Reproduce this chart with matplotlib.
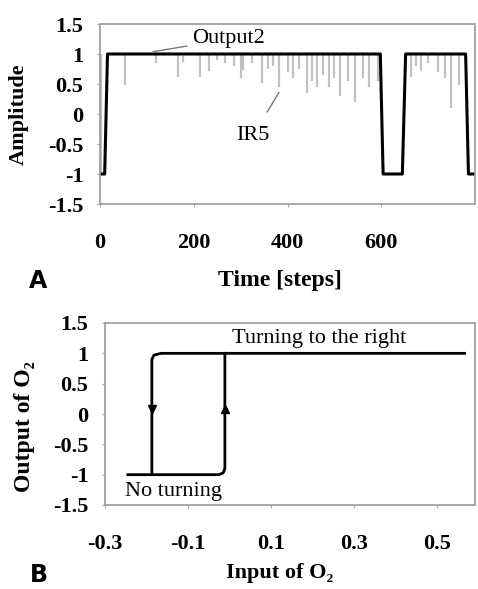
import matplotlib
matplotlib.use("Agg")
import matplotlib.pyplot as plt

plt.rcParams["font.family"] = ["Liberation Serif", "DejaVu Serif"]
plt.rcParams["axes.unicode_minus"] = False

# Panel A: Output2 square wave and IR5 spikes
out2_t = [0, 10, 16, 598, 604, 645, 652, 780, 786, 800]
out2_v = [-1, -1, 1, 1, -1, -1, 1, 1, -1, -1]
ir5_t = [3, 53, 120, 167, 178, 214, 233, 250, 267, 285, 300, 306, 325, 346,
         358, 370, 381, 400, 412, 424, 442, 452, 463, 475, 488, 500, 513, 530,
         545, 560, 573, 592, 663, 675, 684, 700, 720, 735, 749, 766]
ir5_low = [-1, 0.48, 0.85, 0.62, 0.87, 0.62, 0.72, 0.9, 0.85, 0.8, 0.6, 0.73,
           0.85, 0.52, 0.75, 0.8, 0.45, 0.7, 0.6, 0.75, 0.35, 0.55, 0.45, 0.65,
           0.45, 0.6, 0.3, 0.55, 0.2, 0.6, 0.45, 0.55, 0.62, 0.8, 0.72, 0.85,
           0.7, 0.6, 0.1, 0.48]
a_xticks = [0, 200, 400, 600]
a_yticks = [1.5, 1, 0.5, 0, -0.5, -1, -1.5]

# Panel B: hysteresis branches
upper_x = [0.567, -0.165, -0.182, -0.187, -0.187]
upper_y = [1, 1, 0.97, 0.9, -1]
lower_x = [-0.245, -0.025, -0.015, -0.011, -0.011]
lower_y = [-1, -1, -0.97, -0.9, 1]
b_xticks = [-0.3, -0.1, 0.1, 0.3, 0.5]
b_xlabels = ["-0.3", "-0.1", "0.1", "0.3", "0.5"]

W, H = 478, 589
fig = plt.figure(figsize=(W / 100, H / 100), dpi=100)


def box(l, t, r, b):
    return [l / W, 1 - b / H, (r - l) / W, (b - t) / H]


def style(ax):
    for s in ax.spines.values():
        s.set_color("#9a9a9a")
        s.set_linewidth(1.2)
        s.set_linestyle((0, (2, 1)))
    ax.tick_params(direction="out", length=2, color="#aaaaaa", labelsize=16)
    ax.tick_params(axis="x", pad=19)
    ax.tick_params(axis="y", pad=10)
    for lab in ax.get_xticklabels() + ax.get_yticklabels():
        lab.set_fontweight("bold")


axA = fig.add_axes(box(100, 24, 475, 204))
axA.vlines(ir5_t, ir5_low, 1, color="#a8a8a8", linewidth=1.6, alpha=0.7)
axA.plot(out2_t, out2_v, color="black", linewidth=2.2)
axA.set_xlim(0, 800)
axA.set_ylim(-1.5, 1.5)
axA.set_xticks(a_xticks)
axA.set_yticks(a_yticks)
axA.set_yticklabels([str(v) for v in a_yticks])
style(axA)
axA.set_ylabel("Amplitude", fontsize=16, fontweight="bold")
axA.yaxis.set_label_coords(-0.19, 0.5)
axA.annotate("Output2", xy=(107, 1.03), xytext=(197, 1.25), fontsize=16,
             va="center", ha="left",
             arrowprops=dict(arrowstyle="-", color="#777777", lw=1))
axA.annotate("IR5", xy=(385, 0.4), xytext=(327, -0.35), fontsize=16,
             va="center", ha="center",
             arrowprops=dict(arrowstyle="-", color="#777777", lw=1,
                             shrinkA=9))
fig.text(280 / W, 1 - 281 / H, "Time [steps]", fontsize=17, fontweight="bold",
         ha="center", va="center")
fig.text(38 / W, 1 - 281 / H, "A", fontsize=17, fontweight="bold",
         ha="center", va="center", family="DejaVu Sans")

axB = fig.add_axes(box(105, 323, 475, 505))
axB.plot(upper_x, upper_y, color="black", linewidth=2)
axB.plot(lower_x, lower_y, color="black", linewidth=2)
axB.plot([upper_x[-1]], [0.08], marker="v", color="black", markersize=6)
axB.plot([lower_x[-1]], [0.08], marker="^", color="black", markersize=6)
axB.set_xlim(-0.3, 0.592)
axB.set_ylim(-1.5, 1.5)
axB.set_xticks(b_xticks)
axB.set_xticklabels(b_xlabels)
axB.set_yticks(a_yticks)
axB.set_yticklabels([str(v) for v in a_yticks])
style(axB)
axB.set_ylabel("Output of O\u2082", fontsize=17, fontweight="bold")
axB.yaxis.set_label_coords(-0.19, 0.43)
axB.text(0.216, 1.25, "Turning to the right", fontsize=16, ha="center",
         va="center")
axB.text(-0.136, -1.28, "No turning", fontsize=16, ha="center", va="center")
fig.text(280 / W, 1 - 573 / H, "Input of O\u2082", fontsize=16,
         fontweight="bold", ha="center", va="center")
fig.text(39 / W, 1 - 575 / H, "B", fontsize=17, fontweight="bold",
         ha="center", va="center", family="DejaVu Sans")

fig.savefig("out.png", dpi=100)
